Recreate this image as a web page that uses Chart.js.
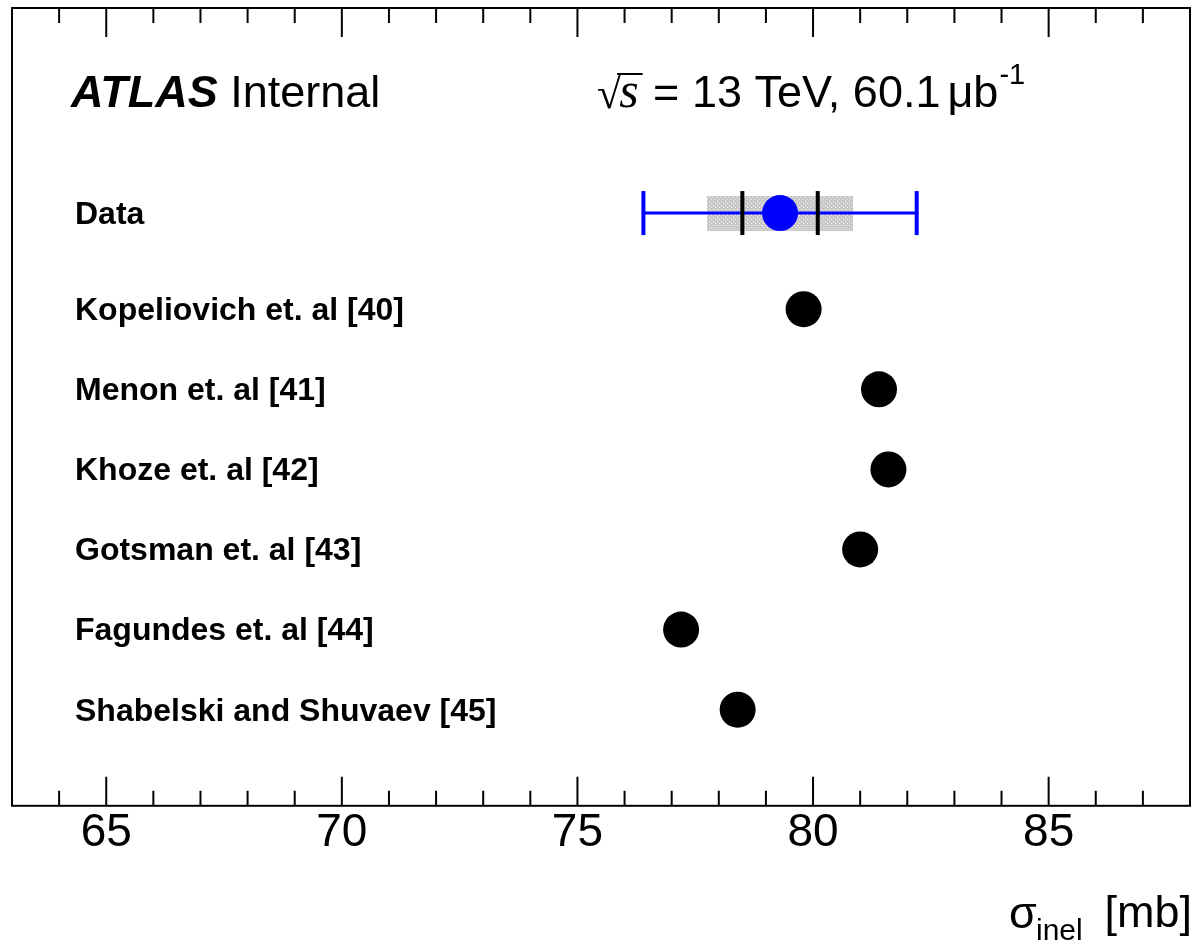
<!DOCTYPE html>
<html>
<head>
<meta charset="utf-8">
<script src="https://cdn.jsdelivr.net/npm/chart.js@4.4.1/dist/chart.umd.min.js"></script>
<style>
    html, body { margin: 0; padding: 0; background: #fff; }
    #wrap { width: 1194px; height: 944px; }
</style>
</head>
<body>
<div id="wrap"><canvas id="sigmaChart" width="1194" height="944"></canvas></div>
<script>
const rowLabels = ['Data', 'Kopeliovich et. al [40]', 'Menon et. al [41]', 'Khoze et. al [42]',
    'Gotsman et. al [43]', 'Fagundes et. al [44]', 'Shabelski and Shuvaev [45]'];
const rowPos = [7.2, 6, 5, 4, 3, 2, 1];

const dataValue = 79.3;
const dataErrInner = 0.8;   // black marks
const dataErrBand = 1.55;   // grey hatched band
const dataErrTotal = 2.9;   // blue bar

const modelValues = [79.8, 81.4, 81.6, 81.0, 77.2, 78.4];

const xTicks = [65, 70, 75, 80, 85];

const SANS = '"Liberation Sans", Arial, Helvetica, sans-serif';
const SERIF = '"Liberation Serif", "Times New Roman", serif';

// grey hatch used for the band around the data point
function makeHatch() {
    const c = document.createElement('canvas');
    c.width = 4; c.height = 4;
    const g = c.getContext('2d');
    g.fillStyle = '#c8c8c8';
    g.fillRect(0, 0, 4, 4);
    g.fillStyle = '#f2f2f2';
    g.fillRect(1, 1, 1, 1);
    g.fillRect(3, 3, 1, 1);
    return c;
}

const errorBars = {
    id: 'errorBars',
    beforeDatasetsDraw(chart) {
        const {ctx, scales: {x, y}} = chart;
        const cy = y.getPixelForValue(rowPos[0]);
        const px = v => x.getPixelForValue(v);
        ctx.save();
        // grey band
        ctx.fillStyle = ctx.createPattern(makeHatch(), 'repeat');
        ctx.fillRect(px(dataValue - dataErrBand), cy - 17, px(dataValue + dataErrBand) - px(dataValue - dataErrBand), 35);
        // blue bar + caps
        ctx.strokeStyle = '#0000ff';
        ctx.lineWidth = 3;
        ctx.beginPath();
        ctx.moveTo(px(dataValue - dataErrTotal), cy);
        ctx.lineTo(px(dataValue + dataErrTotal), cy);
        ctx.stroke();
        ctx.lineWidth = 4;
        [dataValue - dataErrTotal, dataValue + dataErrTotal].forEach(v => {
            ctx.beginPath();
            ctx.moveTo(px(v), cy - 22);
            ctx.lineTo(px(v), cy + 22);
            ctx.stroke();
        });
        // black inner marks
        ctx.strokeStyle = '#000';
        [dataValue - dataErrInner, dataValue + dataErrInner].forEach(v => {
            ctx.beginPath();
            ctx.moveTo(px(v), cy - 22);
            ctx.lineTo(px(v), cy + 22);
            ctx.stroke();
        });
        ctx.restore();
    }
};

const frameAndText = {
    id: 'frameAndText',
    afterDraw(chart) {
        const {ctx, chartArea: a, scales: {x, y}} = chart;
        ctx.save();
        ctx.strokeStyle = '#000';
        ctx.lineWidth = 2;
        ctx.strokeRect(a.left, a.top, a.right - a.left, a.bottom - a.top);

        // ticks inside the frame, top and bottom
        for (let v = Math.ceil(x.min) + 1; v < x.max; v++) {
            const p = x.getPixelForValue(v);
            const len = v % 5 === 0 ? 29 : 15;
            ctx.beginPath();
            ctx.moveTo(p, a.bottom);
            ctx.lineTo(p, a.bottom - len);
            ctx.moveTo(p, a.top);
            ctx.lineTo(p, a.top + len);
            ctx.stroke();
        }

        ctx.fillStyle = '#000';
        ctx.textBaseline = 'alphabetic';
        ctx.textAlign = 'left';

        // ATLAS Internal
        ctx.font = 'italic bold 45px ' + SANS;
        ctx.fillText('ATLAS', 71, 107);
        let xx = 71 + ctx.measureText('ATLAS').width;
        ctx.font = '45px ' + SANS;
        xx += ctx.measureText(' ').width;
        ctx.fillText('Internal', xx, 107);

        // sqrt(s) = 13 TeV, 60.1 ub-1
        xx = 597;
        ctx.font = '44px ' + SERIF;
        ctx.fillText('\u221A', xx, 108);
        const rad = ctx.measureText('\u221A');
        const radTop = 108 - rad.actualBoundingBoxAscent;
        xx += rad.width - 2;
        ctx.font = 'italic 50px ' + SERIF;
        const sW = ctx.measureText('s').width;
        ctx.fillText('s', xx, 107);
        ctx.lineWidth = 2;
        ctx.beginPath();
        ctx.moveTo(xx - 2, radTop + 1);
        ctx.lineTo(xx + sW + 4, radTop + 1);
        ctx.stroke();
        xx += sW + 2;
        ctx.font = '45px ' + SANS;
        ctx.fillText(' = 13 TeV, 60.1', xx, 107);
        xx += ctx.measureText(' = 13 TeV, 60.1').width + 7;
        ctx.fillText('\u03BC', xx, 107);
        xx += ctx.measureText('\u03BC').width;
        ctx.fillText('b', xx, 107);
        xx += ctx.measureText('b').width + 1;
        ctx.font = '29px ' + SANS;
        ctx.fillText('-1', xx, 84);

        // row labels
        ctx.font = 'bold 32px ' + SANS;
        ctx.textBaseline = 'middle';
        rowLabels.forEach((lab, i) => {
            ctx.fillText(lab, 75, y.getPixelForValue(rowPos[i]) + 2);
        });

        // x axis title
        ctx.textBaseline = 'alphabetic';
        ctx.font = '45px ' + SANS;
        ctx.textAlign = 'right';
        ctx.fillText('[mb]', 1192, 927);
        ctx.textAlign = 'left';
        ctx.fillText('\u03C3', 1009, 928);
        ctx.font = '30px ' + SANS;
        ctx.fillText('inel', 1036, 940);
        ctx.restore();
    }
};

const ctx = document.getElementById('sigmaChart').getContext('2d');

new Chart(ctx, {
    type: 'scatter',
    data: {
        datasets: [
            {
                label: 'Data',
                data: [{x: dataValue, y: rowPos[0]}],
                backgroundColor: '#0000ff',
                borderWidth: 0,
                pointRadius: 18
            },
            {
                label: 'Models',
                data: modelValues.map((v, i) => ({x: v, y: rowPos[i + 1]})),
                backgroundColor: '#000000',
                borderWidth: 0,
                pointRadius: 18
            }
        ]
    },
    options: {
        responsive: false,
        animation: false,
        layout: {autoPadding: false, padding: {left: 12, right: 4, top: 8, bottom: 83}},
        plugins: {
            legend: {display: false},
            tooltip: {enabled: false}
        },
        scales: {
            x: {
                type: 'linear',
                min: 63,
                max: 88,
                afterBuildTicks: s => { s.ticks = xTicks.map(v => ({value: v})); },
                ticks: {
                    font: {family: SANS, size: 46},
                    color: '#000',
                    padding: 0,
                    maxRotation: 0,
                    autoSkip: false
                },
                grid: {display: false, drawTicks: false},
                border: {display: false}
            },
            y: {
                type: 'linear',
                min: -0.2,
                max: 9.76,
                display: false
            }
        }
    },
    plugins: [errorBars, frameAndText]
});
</script>
</body>
</html>
